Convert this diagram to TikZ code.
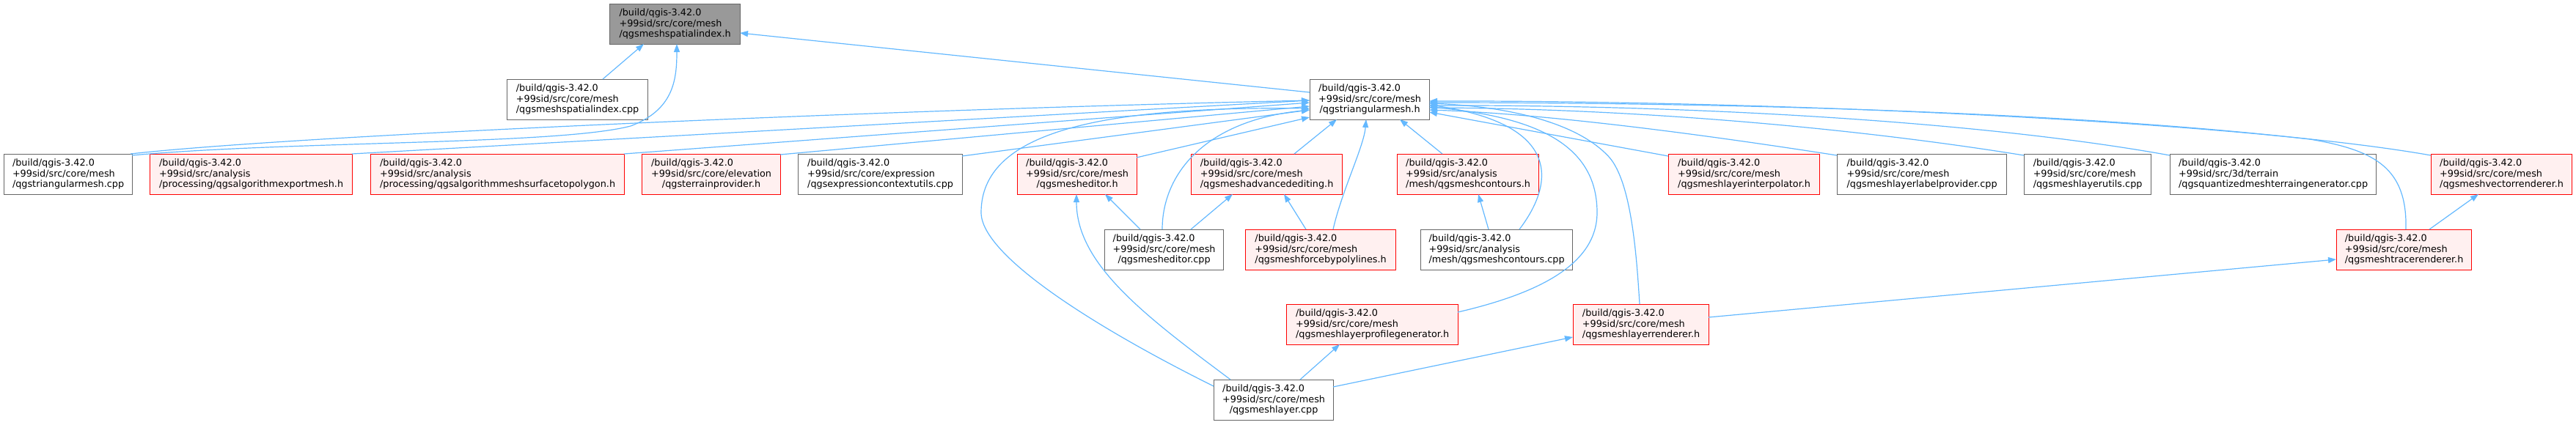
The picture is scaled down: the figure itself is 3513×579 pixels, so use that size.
\documentclass[tikz,border=0pt]{standalone}
\usepackage{fontspec}
\setmainfont{DejaVu Sans}
\usetikzlibrary{arrows.meta,calc}
\definecolor{edgeblue}{HTML}{63B8FF}
\definecolor{boxgray}{HTML}{666666}
\definecolor{redfill}{HTML}{FFF0F0}
\definecolor{mainfill}{HTML}{999999}
\newcommand{\lbl}[3]{\begin{tabular}{@{}l@{}}#1\\#2\\\multicolumn{1}{@{}c@{}}{#3}\end{tabular}}
\newcommand{\bq}{/build/qgis-3.42.0}
\begin{document}
\begin{tikzpicture}[x=1pt,y=-1pt,
  box/.style={draw, line width=1.2pt, inner sep=0pt, minimum height=55pt, anchor=north west, font=\fontsize{12.8}{14.8}\selectfont},
  wbox/.style={box, draw=boxgray, fill=white},
  rbox/.style={box, draw=red, fill=redfill},
  gbox/.style={box, draw=boxgray, fill=mainfill},
  edge/.style={draw=edgeblue, line width=1.2pt, -{Triangle[length=11pt,width=8pt]}}]
\useasboundingbox (0,0) rectangle (3513,579);
% row 1
\node[gbox, minimum width=178pt] (S) at (831,5) {\lbl{\bq}{+99sid/src/core/mesh}{/qgsmeshspatialindex.h}};
% row 2
\node[wbox, minimum width=192pt] (SC) at (691,108) {\lbl{\bq}{+99sid/src/core/mesh}{/qgsmeshspatialindex.cpp}};
\node[wbox, minimum width=163pt] (T) at (1786,108) {\lbl{\bq}{+99sid/src/core/mesh}{/qgstriangularmesh.h}};
% row 3
\node[wbox, minimum width=175pt] (TC) at (5,210) {\lbl{\bq}{+99sid/src/core/mesh}{/qgstriangularmesh.cpp}};
\node[rbox, minimum width=276pt] (AEM) at (204,210) {\lbl{\bq}{+99sid/src/analysis}{/processing/qgsalgorithmexportmesh.h}};
\node[rbox, minimum width=346pt] (MSP) at (505,210) {\lbl{\bq}{+99sid/src/analysis}{/processing/qgsalgorithmmeshsurfacetopolygon.h}};
\node[rbox, minimum width=189pt] (TP) at (875,210) {\lbl{\bq}{+99sid/src/core/elevation}{/qgsterrainprovider.h}};
\node[wbox, minimum width=224pt] (ECU) at (1088,210) {\lbl{\bq}{+99sid/src/core/expression}{/qgsexpressioncontextutils.cpp}};
\node[rbox, minimum width=163pt] (MEH) at (1387,210) {\lbl{\bq}{+99sid/src/core/mesh}{/qgsmesheditor.h}};
\node[rbox, minimum width=206pt] (AE) at (1624,210) {\lbl{\bq}{+99sid/src/core/mesh}{/qgsmeshadvancedediting.h}};
\node[rbox, minimum width=193pt] (MCH) at (1905,210) {\lbl{\bq}{+99sid/src/analysis}{/mesh/qgsmeshcontours.h}};
\node[rbox, minimum width=206pt] (LI) at (2275,210) {\lbl{\bq}{+99sid/src/core/mesh}{/qgsmeshlayerinterpolator.h}};
\node[wbox, minimum width=231pt] (LLP) at (2505,210) {\lbl{\bq}{+99sid/src/core/mesh}{/qgsmeshlayerlabelprovider.cpp}};
\node[wbox, minimum width=173pt] (LU) at (2760,210) {\lbl{\bq}{+99sid/src/core/mesh}{/qgsmeshlayerutils.cpp}};
\node[wbox, minimum width=281pt] (QM) at (2959,210) {\lbl{\bq}{+99sid/src/3d/terrain}{/qgsquantizedmeshterraingenerator.cpp}};
\node[rbox, minimum width=192pt] (VR) at (3315,210) {\lbl{\bq}{+99sid/src/core/mesh}{/qgsmeshvectorrenderer.h}};
% row 4
\node[wbox, minimum width=162pt] (MEC) at (1506,313) {\lbl{\bq}{+99sid/src/core/mesh}{/qgsmesheditor.cpp}};
\node[rbox, minimum width=205pt] (FP) at (1698,313) {\lbl{\bq}{+99sid/src/core/mesh}{/qgsmeshforcebypolylines.h}};
\node[wbox, minimum width=207pt] (MCC) at (1937,313) {\lbl{\bq}{+99sid/src/analysis}{/mesh/qgsmeshcontours.cpp}};
\node[rbox, minimum width=184pt] (TR) at (3186,313) {\lbl{\bq}{+99sid/src/core/mesh}{/qgsmeshtracerenderer.h}};
% row 5
\node[rbox, minimum width=234pt] (PG) at (1754,415) {\lbl{\bq}{+99sid/src/core/mesh}{/qgsmeshlayerprofilegenerator.h}};
\node[rbox, minimum width=185pt] (LR) at (2145,415) {\lbl{\bq}{+99sid/src/core/mesh}{/qgsmeshlayerrenderer.h}};
% row 6
\node[wbox, minimum width=163pt] (ML) at (1655,518) {\lbl{\bq}{+99sid/src/core/mesh}{/qgsmeshlayer.cpp}};

% edges into spatialindex.h
\draw[edge] ($(SC.north west)+(131,0)$) -- ($(S.north west)+(47,55)$);
\draw[edge] ($(T.north west)+(0,18)$) -- ($(S.north west)+(178,40)$);
\draw[edge] ($(TC.north west)+(175,2)$) .. controls (400,192) and (760,198) .. (860,172) .. controls (918,150) and (923,110) .. ($(S.north west)+(92,55)$);
% edges into triangularmesh.h (left)
\draw[edge] ($(TC.north west)+(173,0)$) .. controls (400,185) and (1200,150) .. ($(T.north west)+(0,29)$);
\draw[edge] ($(AEM.north west)+(276,0)$) -- ($(T.north west)+(0,29)$);
\draw[edge] ($(MSP.north west)+(346,0)$) -- ($(T.north west)+(0,32)$);
\draw[edge] ($(TP.north west)+(189,1)$) -- ($(T.north west)+(0,37)$);
\draw[edge] ($(ECU.north west)+(224,3)$) -- ($(T.north west)+(0,42)$);
\draw[edge] ($(MEH.north west)+(163,5)$) -- ($(T.north west)+(0,52)$);
\draw[edge] ($(MEC.north west)+(79,0)$) .. controls (1585,240) and (1640,165) .. ($(T.north west)+(0,42)$);
\draw[edge] ($(ML.north west)+(0,9)$) .. controls (1500,450) and (1338,350) .. (1338,290) .. controls (1338,180) and (1500,145) .. ($(T.north west)+(0,40)$);
% bottom
\draw[edge] ($(AE.north west)+(141,0)$) -- ($(T.north west)+(37,55)$);
\draw[edge] ($(FP.north west)+(120,0)$) .. controls (1830,260) and (1860,200) .. ($(T.north west)+(77,55)$);
\draw[edge] ($(MCH.north west)+(62,0)$) -- ($(T.north west)+(123,55)$);
% right
\draw[edge] ($(MCC.north west)+(135,0)$) .. controls (2120,250) and (2130,170) .. ($(T.north west)+(163,35)$);
\draw[edge] ($(PG.north west)+(234,11)$) .. controls (2100,400) and (2178,360) .. (2178,290) .. controls (2178,200) and (2100,160) .. ($(T.north west)+(163,38)$);
\draw[edge] ($(LR.north west)+(91,0)$) .. controls (2232,350) and (2225,250) .. (2195,215) .. controls (2150,165) and (2050,145) .. ($(T.north west)+(163,33)$);
\draw[edge] ($(LI.north west)+(0,3)$) -- ($(T.north west)+(163,45)$);
\draw[edge] ($(LLP.north west)+(0,2)$) .. controls (2300,180) and (2100,155) .. ($(T.north west)+(163,42)$);
\draw[edge] ($(LU.north west)+(0,2)$) .. controls (2500,170) and (2200,148) .. ($(T.north west)+(163,39)$);
\draw[edge] ($(QM.north west)+(0,2)$) .. controls (2700,165) and (2300,143) .. ($(T.north west)+(163,36)$);
\draw[edge] ($(VR.north west)+(0,2)$) .. controls (3050,165) and (2400,137) .. ($(T.north west)+(163,30)$);
\draw[edge] ($(TR.north west)+(95,0)$) .. controls (3283,230) and (3240,205) .. (3150,190) .. controls (2800,150) and (2300,140) .. ($(T.north west)+(163,32)$);
% other edges
\draw[edge] ($(MEC.north west)+(49,0)$) -- ($(MEH.north west)+(120,55)$);
\draw[edge] ($(ML.north west)+(23,0)$) .. controls (1560,430) and (1468,360) .. ($(MEH.north west)+(81,55)$);
\draw[edge] ($(MEC.north west)+(118,0)$) -- ($(AE.north west)+(57,55)$);
\draw[edge] ($(FP.north west)+(83,0)$) -- ($(AE.north west)+(127,55)$);
\draw[edge] ($(MCC.north west)+(93,0)$) -- ($(MCH.north west)+(111,55)$);
\draw[edge] ($(ML.north west)+(118,0)$) -- ($(PG.north west)+(73,55)$);
\draw[edge] ($(ML.north west)+(163,10)$) -- ($(LR.north west)+(0,45)$);
\draw[edge] ($(LR.north west)+(185,18)$) -- ($(TR.north west)+(0,41)$);
\draw[edge] ($(TR.north west)+(127,0)$) -- ($(VR.north west)+(65,55)$);
\end{tikzpicture}
\end{document}
